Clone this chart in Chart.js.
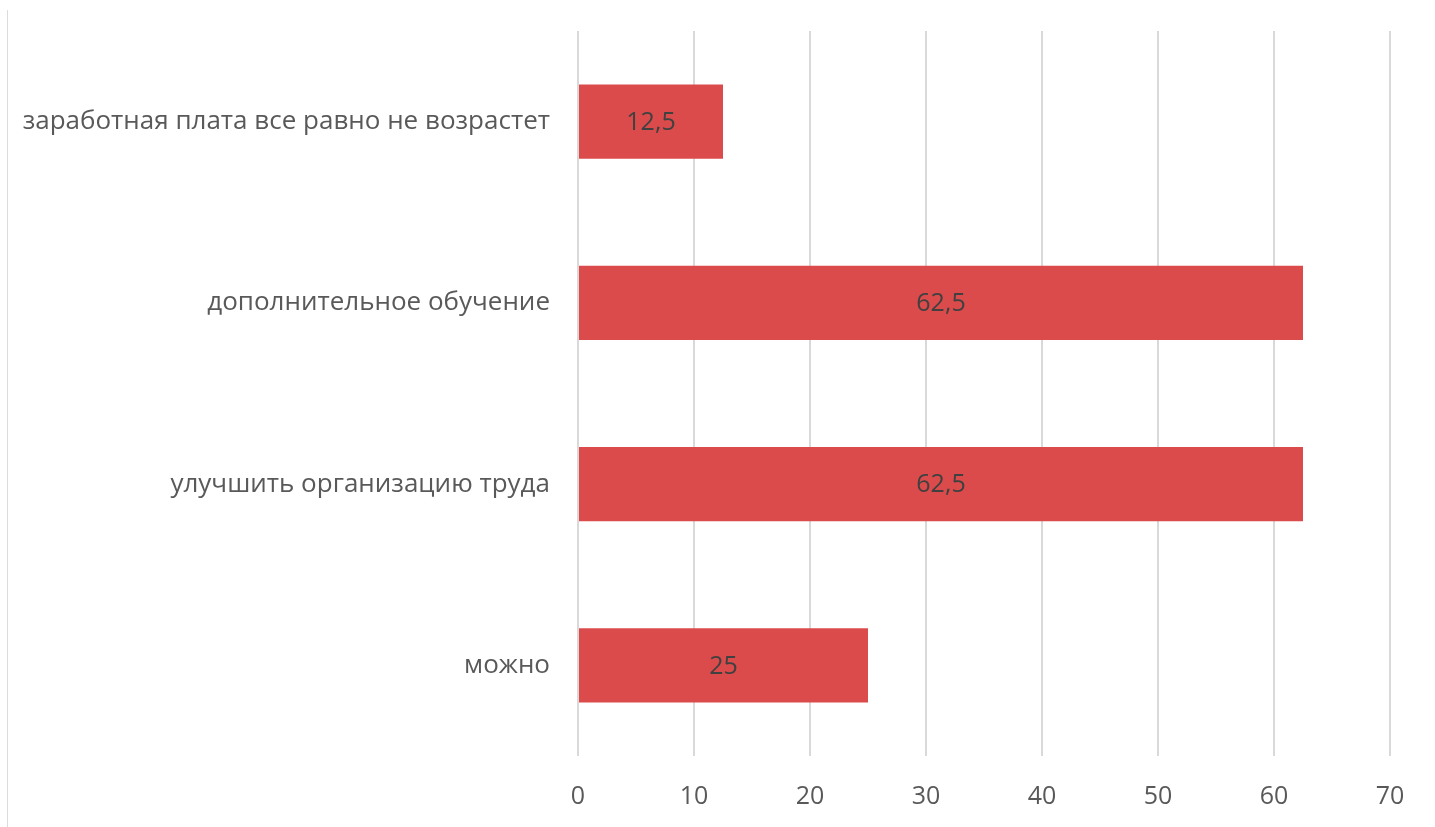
<!DOCTYPE html>
<html><head><meta charset="utf-8">
<script src="https://cdn.jsdelivr.net/npm/chart.js@4/dist/chart.umd.min.js"></script>
<style>
html,body{margin:0;padding:0;background:#fff;}
#wrap{position:relative;width:1435px;height:827px;}
#edge{position:absolute;left:7px;top:10px;width:1px;height:817px;background:#dcdcdc;}
</style></head>
<body><div id="wrap"><div id="edge"></div><canvas id="c" width="1435" height="827"></canvas></div>
<script>
const categories = ["заработная плата все равно не возрастет","дополнительное обучение","улучшить организацию труда","можно"];
const values = [12.5, 62.5, 62.5, 25];
const xTicks = [0,10,20,30,40,50,60,70];

const valueLabels = {
  id:'valueLabels',
  afterDatasetsDraw(chart){
    const ctx = chart.ctx;
    const meta = chart.getDatasetMeta(0);
    ctx.save();
    ctx.font = '25px "Open Sans", sans-serif';
    ctx.fillStyle = '#404040';
    ctx.textAlign='center';ctx.textBaseline='middle';
    meta.data.forEach((el,i)=>{
      const x = (el.x + el.base)/2;
      ctx.fillText(String(values[i]).replace('.',','), x, el.y+1);
    });
    ctx.restore();
  }
};

new Chart(document.getElementById('c'),{
  type:'bar',
  data:{labels:categories,datasets:[{data:values,backgroundColor:'#dc4b4b',barPercentage:0.41,categoryPercentage:1}]},
  plugins:[valueLabels],
  options:{
    indexAxis:'y',responsive:false,animation:false,
    layout:{padding:{top:31,right:45,left:0,bottom:0}},
    plugins:{legend:{display:false},tooltip:{enabled:false}},
    scales:{
      x:{min:0,max:70,
        afterBuildTicks(s){s.ticks = xTicks.map(v=>({value:v}));},
        afterFit(s){s.height=71;s.paddingLeft=0;s.paddingRight=0;},
        grid:{color:'#d9d9d9',lineWidth:2,drawTicks:false},
        border:{display:false},
        ticks:{padding:26,color:'#595959',font:{size:25,family:'"Open Sans", sans-serif'}}},
      y:{
        afterFit(s){s.width=578;s.paddingTop=0;s.paddingBottom=0;},
        grid:{display:false,drawTicks:false},
        border:{display:false},
        ticks:{padding:28,color:'#595959',font:{size:26,family:'"Open Sans", sans-serif'}}}
    }
  }
});
</script></body></html>
